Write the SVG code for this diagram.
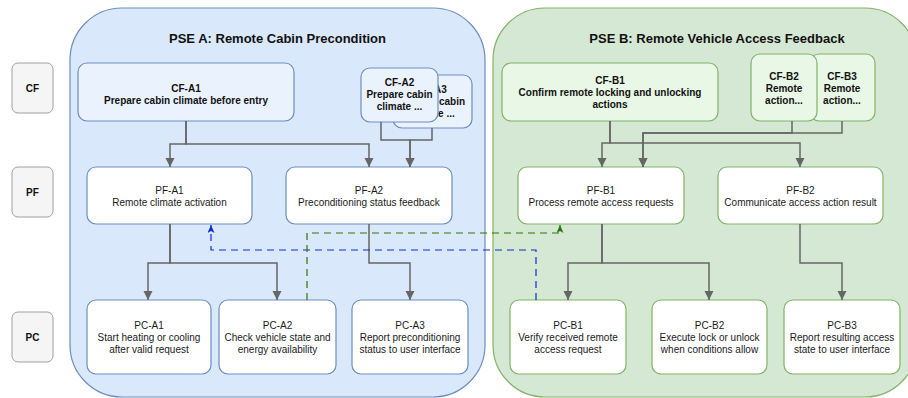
<svg xmlns="http://www.w3.org/2000/svg" width="908" height="398" viewBox="0 0 908 398">
  <style>
    text { font-family: "Liberation Sans", Arial, Helvetica, sans-serif; text-anchor: middle; fill: #111; }
    .title { font-size: 13px; font-weight: bold; }
    .cf { font-size: 10px; font-weight: bold; }
    .lbl { font-size: 10px; font-weight: bold; }
    .fn { font-size: 10px; fill: #1a1a1a; }
    .row { fill: #f5f5f5; stroke: #a0a0a0; stroke-width: 1; }
    .pseA { fill: #dae8fc; stroke: #6c8ebf; stroke-width: 1.2; }
    .pseB { fill: #d5e8d4; stroke: #82b366; stroke-width: 1.2; }
    .cfA { fill: #eaf2fe; stroke: #6c8ebf; stroke-width: 1.2; }
    .cfB { fill: #e9f7e6; stroke: #82b366; stroke-width: 1.2; }
    .nA { fill: #ffffff; stroke: #6c8ebf; stroke-width: 1.2; }
    .nB { fill: #ffffff; stroke: #82b366; stroke-width: 1.2; }
    .edge { fill: none; stroke: #666666; stroke-width: 1.5; marker-end: url(#arrowGray); }
    .dashBlue { fill: none; stroke: #0a2ecc; stroke-width: 1.2; stroke-dasharray: 7 5; marker-end: url(#arrowBlue); }
    .dashGreen { fill: none; stroke: #2d7600; stroke-width: 1.2; stroke-dasharray: 7 5; marker-end: url(#arrowGreen); }
  </style>
  <defs>
    <marker id="arrowGray" markerUnits="userSpaceOnUse" markerWidth="10" markerHeight="10" refX="9" refY="4.5" orient="auto">
      <path d="M0,0 L9,4.5 L0,9 z" fill="#666666"/>
    </marker>
    <marker id="arrowBlue" markerUnits="userSpaceOnUse" markerWidth="9" markerHeight="8" refX="8" refY="3.5" orient="auto">
      <path d="M0,0 L8,3.5 L0,7 L2,3.5 z" fill="#0a2ecc"/>
    </marker>
    <marker id="arrowGreen" markerUnits="userSpaceOnUse" markerWidth="9" markerHeight="8" refX="8" refY="3.5" orient="auto">
      <path d="M0,0 L8,3.5 L0,7 L2,3.5 z" fill="#2d7600"/>
    </marker>
  </defs>

  <!-- row labels -->
  <g id="row-CF"><rect class="row" x="12" y="63" width="41" height="50" rx="6"/><text class="lbl" x="32.5" y="91.5">CF</text></g>
  <g id="row-PF"><rect class="row" x="12" y="167" width="41" height="50" rx="6"/><text class="lbl" x="32.5" y="195.5">PF</text></g>
  <g id="row-PC"><rect class="row" x="12" y="312" width="41" height="50" rx="6"/><text class="lbl" x="32.5" y="340.5">PC</text></g>

  <!-- swimlane containers -->
  <g id="pse-A">
    <rect class="pseA" x="70" y="8" width="415" height="389" rx="52"/>
    <text class="title" x="277.5" y="43">PSE A: Remote Cabin Precondition</text>
  </g>
  <g id="pse-B">
    <rect class="pseB" x="493" y="8" width="424" height="389" rx="52"/>
    <text class="title" x="717" y="43">PSE B: Remote Vehicle Access Feedback</text>
  </g>

  <!-- CF nodes, A side -->
  <g id="CF-A1">
    <rect class="cfA" x="78" y="63" width="216" height="58" rx="9"/>
    <text class="cf" x="186" y="91.5">CF-A1</text>
    <text class="cf" x="186" y="103.5">Prepare cabin climate before entry</text>
  </g>
  <g id="CF-A3">
    <rect class="cfA" x="393" y="75" width="79" height="53" rx="9"/>
    <text class="cf" x="432" y="93">CF-A3</text>
    <text class="cf" x="432" y="105">Prepare cabin</text>
    <text class="cf" x="432" y="117">climate ...</text>
  </g>
  <g id="CF-A2">
    <rect class="cfA" x="361" y="68" width="77" height="54" rx="9"/>
    <text class="cf" x="399.5" y="85.5">CF-A2</text>
    <text class="cf" x="399.5" y="97.5">Prepare cabin</text>
    <text class="cf" x="399.5" y="109.5">climate ...</text>
  </g>

  <!-- CF nodes, B side -->
  <g id="CF-B1">
    <rect class="cfB" x="502" y="63" width="216" height="58" rx="9"/>
    <text class="cf" x="610" y="83.5">CF-B1</text>
    <text class="cf" x="610" y="95.5">Confirm remote locking and unlocking</text>
    <text class="cf" x="610" y="107.5">actions</text>
  </g>
  <g id="CF-B3">
    <rect class="cfB" x="810" y="54" width="65" height="67" rx="9"/>
    <text class="cf" x="842" y="79.5">CF-B3</text>
    <text class="cf" x="842" y="91.5">Remote</text>
    <text class="cf" x="842" y="103.5">action...</text>
  </g>
  <g id="CF-B2">
    <rect class="cfB" x="751" y="54" width="66" height="67" rx="9"/>
    <text class="cf" x="784" y="79.5">CF-B2</text>
    <text class="cf" x="784" y="91.5">Remote</text>
    <text class="cf" x="784" y="103.5">action...</text>
  </g>

  <!-- PF nodes -->
  <g id="PF-A1">
    <rect class="nA" x="87" y="167" width="165" height="57" rx="9"/>
    <text class="fn" x="169.5" y="193.5">PF-A1</text>
    <text class="fn" x="169.5" y="205.5">Remote climate activation</text>
  </g>
  <g id="PF-A2">
    <rect class="nA" x="286" y="167" width="166" height="57" rx="9"/>
    <text class="fn" x="369" y="193.5">PF-A2</text>
    <text class="fn" x="369" y="205.5">Preconditioning status feedback</text>
  </g>
  <g id="PF-B1">
    <rect class="nB" x="518" y="167" width="166" height="57" rx="9"/>
    <text class="fn" x="601" y="193.5">PF-B1</text>
    <text class="fn" x="601" y="205.5">Process remote access requests</text>
  </g>
  <g id="PF-B2">
    <rect class="nB" x="718" y="167" width="165" height="57" rx="9"/>
    <text class="fn" x="800.5" y="193.5">PF-B2</text>
    <text class="fn" x="800.5" y="205.5">Communicate access action result</text>
  </g>

  <!-- PC nodes -->
  <g id="PC-A1">
    <rect class="nA" x="87" y="300" width="124" height="74" rx="9"/>
    <text class="fn" x="149" y="328.5">PC-A1</text>
    <text class="fn" x="149" y="340.5">Start heating or cooling</text>
    <text class="fn" x="149" y="352.5">after valid request</text>
  </g>
  <g id="PC-A2">
    <rect class="nA" x="219" y="300" width="117" height="74" rx="9"/>
    <text class="fn" x="277.5" y="328.5">PC-A2</text>
    <text class="fn" x="277.5" y="340.5">Check vehicle state and</text>
    <text class="fn" x="277.5" y="352.5">energy availability</text>
  </g>
  <g id="PC-A3">
    <rect class="nA" x="352" y="300" width="116" height="74" rx="9"/>
    <text class="fn" x="410" y="328.5">PC-A3</text>
    <text class="fn" x="410" y="340.5">Report preconditioning</text>
    <text class="fn" x="410" y="352.5">status to user interface</text>
  </g>
  <g id="PC-B1">
    <rect class="nB" x="510" y="300" width="116" height="74" rx="9"/>
    <text class="fn" x="568" y="328.5">PC-B1</text>
    <text class="fn" x="568" y="340.5">Verify received remote</text>
    <text class="fn" x="568" y="352.5">access request</text>
  </g>
  <g id="PC-B2">
    <rect class="nB" x="652" y="300" width="115" height="74" rx="9"/>
    <text class="fn" x="709.5" y="328.5">PC-B2</text>
    <text class="fn" x="709.5" y="340.5">Execute lock or unlock</text>
    <text class="fn" x="709.5" y="352.5">when conditions allow</text>
  </g>
  <g id="PC-B3">
    <rect class="nB" x="784" y="300" width="116" height="74" rx="9"/>
    <text class="fn" x="842" y="328.5">PC-B3</text>
    <text class="fn" x="842" y="340.5">Report resulting access</text>
    <text class="fn" x="842" y="352.5">state to user interface</text>
  </g>

  <!-- connectors -->
  <g id="connectors">
    <path class="edge" d="M186,121 V144 H170 V167"/>
    <path class="edge" d="M186,121 V144 H369 V167"/>
    <path class="edge" d="M381,122 V140 H410 V167"/>
    <path class="edge" d="M432,128 V140 H410 V167"/>
    <path class="edge" d="M170,224 V263 H148 V300"/>
    <path class="edge" d="M170,224 V263 H277 V300"/>
    <path class="edge" d="M369,224 V263 H410 V300"/>
    <path class="edge" d="M610,121 V143 H602 V167"/>
    <path class="edge" d="M610,121 V143 H800 V167"/>
    <path class="edge" d="M792,121 V133 H643 V167"/>
    <path class="edge" d="M842,121 V133 H643 V167"/>
    <path class="edge" d="M602,224 V263 H568 V300"/>
    <path class="edge" d="M602,224 V263 H709 V300"/>
    <path class="edge" d="M800,224 V263 H842 V300"/>
    <path class="dashBlue" d="M536,300 V250 H211 V225"/>
    <path class="dashGreen" d="M307,300 V233 H560 V225"/>
  </g>
</svg>
